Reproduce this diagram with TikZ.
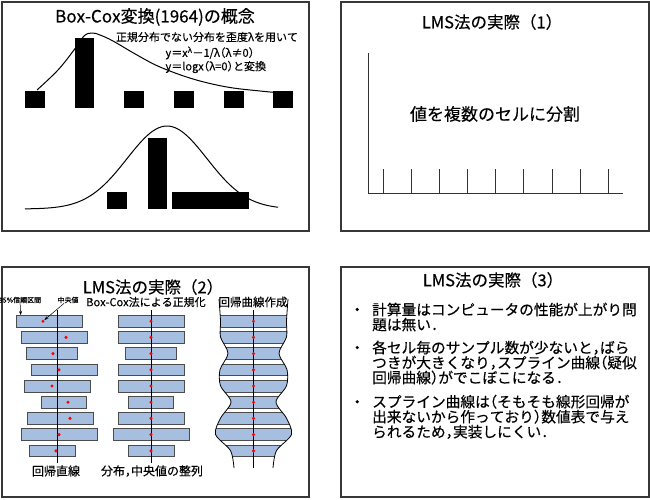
\documentclass[tikz,border=0pt]{standalone}
\usepackage{fontspec}
\setmainfont{Noto Sans CJK JP}[FakeBold=0.3,Kerning=Off]
\newfontfamily\halffont{Noto Sans CJK JP}[RawFeature=+halt,FakeBold=0.3,Kerning=Off]
\usetikzlibrary{arrows.meta}
\definecolor{cellblue}{RGB}{166,191,225}
\definecolor{framegray}{RGB}{55,55,55}
\newcommand{\fs}[1]{\fontsize{#1}{#1}\selectfont}
\newcommand{\hp}[1]{{\halffont#1}}
\begin{document}
\begin{tikzpicture}[x=1pt,y=-1pt,
    panel/.style={draw=framegray,line width=1.3pt},
    ttl/.style={font=\fs{16.5}},
    cell/.style={fill=cellblue,draw=black!70,line width=0.6pt,inner sep=0pt,minimum height=11.7pt},
    dot/.style={circle,fill=red,inner sep=0pt,minimum size=3.4pt},
    tiny/.style={font=\fs{7},inner sep=0pt},
    bullettext/.style={font=\fontsize{14.7}{15}\selectfont,align=left,anchor=north west,inner sep=0pt}]
\useasboundingbox (0,0) rectangle (650,499);
% four panels
\draw[panel] (2,2) rectangle (309,231);
\draw[panel] (341,2) rectangle (649,231);
\draw[panel] (2,267) rectangle (309,497);
\draw[panel] (341,267) rectangle (649,497);

% panel 1: Box-Cox
\node[font=\fs{17}] (bctitle) at (155,17) {Box-Cox変換(1964)の概念};
\node[font=\fs{11}] (bcnote) at (207,37) {正規分布でない分布を歪度λを用いて};
\node[font=\fs{11},anchor=west] (bcpow) at (162,53) {y＝x\textsuperscript{λ}－1/λ\hp{（}λ≠0\hp{）}};
\node[font=\fs{11},anchor=west] (bclog) at (162,67) {y＝logx\hp{（}λ=0\hp{）}と変換};
\fill (75,38) rectangle (94,108);
\foreach \x in {25,124,174,224,273}
  \fill (\x,91) rectangle ++(20,17);
\draw[line width=1pt] plot[smooth,tension=0.6] coordinates {(37,90) (58,70) (74,50) (84,36) (92,33) (100,35) (113,41) (137,55) (160,67) (193,79) (227,87) (260,91) (293,94)};
\fill (107,192) rectangle (127,209);
\fill (148,138) rectangle (167,209);
\fill (172,192) rectangle (249,209);
\draw[line width=1pt] plot[domain=25:278,samples=90,smooth] (\x,{209-83/exp(((\x-167)/40)^2/2)});

% panel 2: cells
\node[ttl] (lms1) at (492,22) {LMS法の実際（1）};
\draw[line width=0.8pt,black!80] (368,53) -- (368,193) -- (623,193);
\foreach \i in {0,...,8}
  \draw[line width=0.8pt,black!80] (383.3+28.1*\i,169) -- ++(0,24);
\node[font=\fs{17}] (split) at (495,114) {値を複数のセルに分割};

% panel 3: three columns
\node[ttl] (lms2) at (153,287) {LMS法の実際（2）};
\node[tiny] (ci) at (20,300) {95\%信頼区間};
\node[tiny] (med) at (68,300) {中央値};
\node[font=\fs{11}] (bcnorm) at (146,302) {Box-Cox法による正規化};
\node[font=\fs{11.5}] (fitc) at (253,302) {回帰曲線作成};
\foreach \w/\c [count=\i] in {66/49,66/54,51/51.5,66/64,66/57.5,45/64,66/60,76/59,46/52} {
  \node[cell,minimum width=\w pt] (a\i) at (\c,305+16.2*\i) {};
  \node[cell,minimum width=\w pt] (b\i) at (151,305+16.2*\i) {};
}
\begin{scope}
  \clip plot[smooth] coordinates {(219,299) (220.5,321) (220.5,337) (228,353.4) (220,369.6) (220.5,385.8) (231,402) (220.5,418.2) (215.5,434.4) (230.5,450.6) (234,468)}
    -- plot[smooth] coordinates {(273,468) (276.5,450.6) (291.5,434.4) (286.5,418.2) (276,402) (286.5,385.8) (287,369.6) (279,353.4) (286.5,337) (286.5,321) (288,299)} -- cycle;
  \foreach \i in {1,...,9} {
    \fill[cellblue] (200,299.15+16.2*\i) rectangle (300,310.85+16.2*\i);
    \draw[black!70,line width=0.6pt] (200,299.15+16.2*\i) -- (300,299.15+16.2*\i);
    \draw[black!70,line width=0.6pt] (200,310.85+16.2*\i) -- (300,310.85+16.2*\i);
  }
\end{scope}
\draw[line width=0.8pt] plot[smooth] coordinates {(219,299) (220.5,321) (220.5,337) (228,353.4) (220,369.6) (220.5,385.8) (231,402) (220.5,418.2) (215.5,434.4) (230.5,450.6) (234,468)};
\draw[line width=0.8pt] plot[smooth] coordinates {(288,299) (286.5,321) (286.5,337) (279,353.4) (287,369.6) (286.5,385.8) (276,402) (286.5,418.2) (291.5,434.4) (276.5,450.6) (273,468)};
\draw[line width=0.8pt] (57,310) -- (57,463);
\draw[line width=0.8pt] (151,310) -- (151,463);
\draw[line width=0.8pt] (253.5,310) -- (253.5,468);
\foreach \d [count=\i] in {43,66,53,59,52,68,70,59,56} {
  \node[dot] (ad\i) at (\d,305+16.2*\i) {};
  \node[dot] (bd\i) at (151,305+16.2*\i) {};
  \node[dot] (cd\i) at (253.5,305+16.2*\i) {};
}
\draw[-{Stealth[length=4pt]},line width=0.5pt] (ci) -- ([xshift=5pt]a1.north west);
\draw[-{Stealth[length=4pt]},line width=0.5pt] (med) -- (ad1);
\node[font=\fs{12}] (linreg) at (56,471) {回帰直線};
\node[font=\fs{12}] (sortlab) at (152,471) {分布\hp{，}中央値の整列};

% panel 4: remarks
\node[ttl] (lms3) at (493,280) {LMS法の実際（3）};
\node[bullettext] (txt1) at (349.7,302.5) {・\hspace{7.6pt}計算量はコンピュータの性能が上がり問\\\hspace*{22.3pt}題は無い\hp{．}};
\node[bullettext] (txt2) at (349.7,340.5) {・\hspace{7.6pt}各セル毎のサンプル数が少ないと\hp{，}ばら\\\hspace*{22.3pt}つきが大きくなり\hp{，}スプライン曲線\hp{（}疑似\\\hspace*{22.3pt}回帰曲線\hp{）}がでこぼこになる\hp{．}};
\node[bullettext] (txt3) at (349.7,394.5) {・\hspace{7.6pt}スプライン曲線は\hp{（}そもそも線形回帰が\\\hspace*{22.3pt}出来ないから作っており\hp{）}数値表で与え\\\hspace*{22.3pt}られるため\hp{，}実装しにくい\hp{．}};
\end{tikzpicture}
\end{document}
